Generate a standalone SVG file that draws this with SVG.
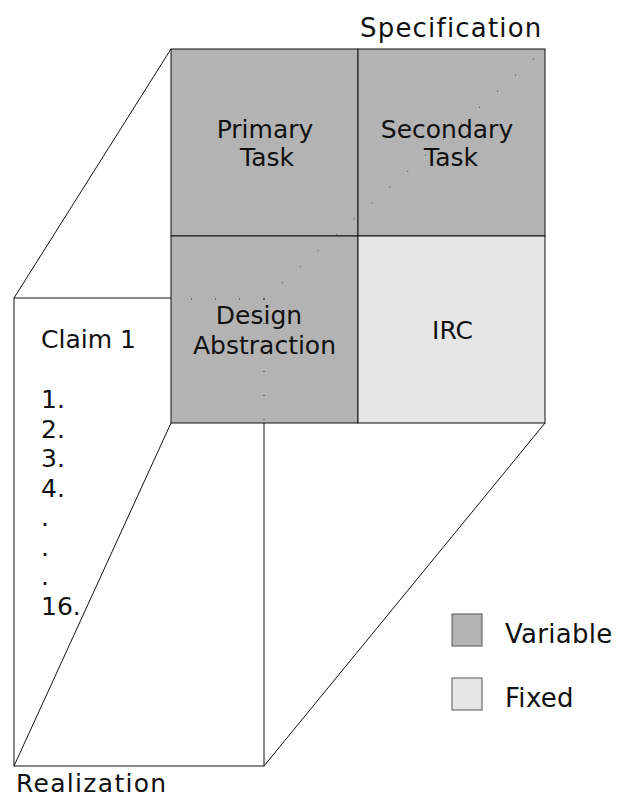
<svg xmlns="http://www.w3.org/2000/svg" width="623" height="798" viewBox="0 0 623 798">
  <style>
    .edge { fill: none; stroke: #111; stroke-width: 1; }
    .var { fill: #b3b3b3; stroke: #111; stroke-width: 1; }
    .fix { fill: #e6e6e6; stroke: #111; stroke-width: 1; }
    .dot { fill: none; stroke: #222; stroke-width: 1; stroke-dasharray: 1 23; }
    .lbl { font-family: "DejaVu Sans", Verdana, sans-serif; font-size: 25px; fill: #111; }
    .mid { text-anchor: middle; }
    .leg { stroke: #555; }
  </style>
  <rect width="623" height="798" fill="#fff"/>
  <g id="connectors">
    <line class="edge" x1="14" y1="298" x2="171" y2="49"/>
    <line class="edge" x1="14" y1="766" x2="171" y2="423"/>
    <line class="edge" x1="264" y1="766" x2="545" y2="423"/>
  </g>
  <g id="realization-face">
    <rect class="edge" x="14" y="298" width="250" height="468" fill="#fff"/>
    <text class="lbl" x="41" y="348">Claim 1</text>
    <text class="lbl" x="41" y="408">1.</text>
    <text class="lbl" x="41" y="437.5">2.</text>
    <text class="lbl" x="41" y="467">3.</text>
    <text class="lbl" x="41" y="496.5">4.</text>
    <text class="lbl" x="41" y="526">.</text>
    <text class="lbl" x="41" y="555.5">.</text>
    <text class="lbl" x="41" y="585">.</text>
    <text class="lbl" x="41" y="614.5">16.</text>
  </g>
  <g id="primary-task">
    <rect class="var" x="171" y="49" width="187" height="187"/>
    <text class="lbl mid" x="265" y="138">Primary</text>
    <text class="lbl mid" x="267" y="166">Task</text>
  </g>
  <g id="secondary-task">
    <rect class="var" x="358" y="49" width="187" height="187"/>
    <text class="lbl mid" x="447" y="138">Secondary</text>
    <text class="lbl mid" x="451" y="166">Task</text>
  </g>
  <g id="design-abstraction">
    <rect class="var" x="171" y="236" width="187" height="187"/>
    <text class="lbl mid" x="259" y="324">Design</text>
    <text class="lbl mid" x="264.5" y="354">Abstraction</text>
  </g>
  <g id="irc">
    <rect class="fix" x="358" y="236" width="187" height="187"/>
    <text class="lbl mid" x="452.5" y="339">IRC</text>
  </g>
  <g id="hidden-edges">
    <line class="dot" x1="264" y1="299" x2="171" y2="299"/>
    <line class="dot" x1="264" y1="299" x2="264" y2="423"/>
    <line class="dot" x1="264" y1="299" x2="545" y2="49"/>
  </g>
  <g id="axis-labels">
    <text class="lbl" x="360" y="37" style="font-size:26px;letter-spacing:1.2px">Specification</text>
    <text class="lbl" x="16" y="792" style="letter-spacing:1.3px">Realization</text>
  </g>
  <g id="legend">
    <rect class="var leg" x="452" y="614" width="30" height="32"/>
    <text class="lbl" x="505" y="643" style="font-size:26px;letter-spacing:0.3px">Variable</text>
    <rect class="fix leg" x="452" y="678" width="30" height="32"/>
    <text class="lbl" x="505" y="707" style="font-size:26px;letter-spacing:0.3px">Fixed</text>
  </g>
</svg>
